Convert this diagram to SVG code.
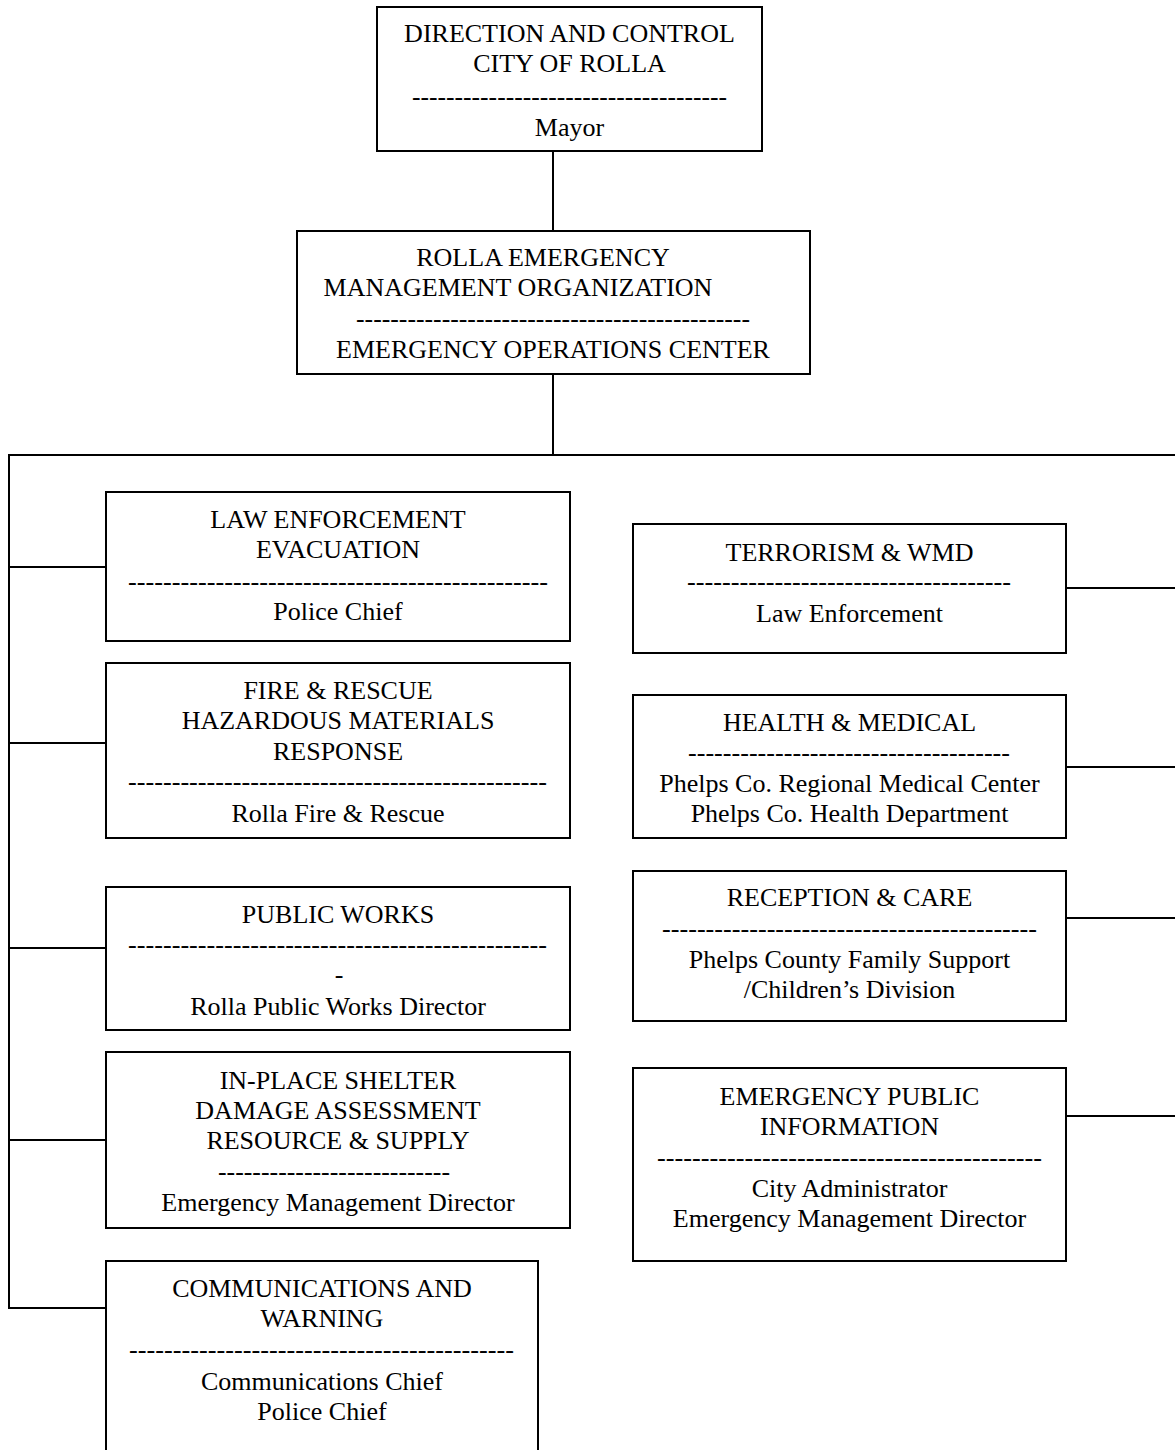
<svg xmlns="http://www.w3.org/2000/svg" width="1175" height="1450" viewBox="0 0 1175 1450">
<style>
.box{fill:#fff;stroke:#000;stroke-width:2}
.c{stroke:#000;stroke-width:2;fill:none}
.t{font-family:"Liberation Serif","Times New Roman",serif;font-size:26px;fill:#000;text-anchor:middle}
.s{text-anchor:start}
</style>
<rect width="1175" height="1450" fill="#fff"/>
<g id="connectors">
<line class="c" x1="553" y1="151" x2="553" y2="231"/>
<line class="c" x1="553" y1="374" x2="553" y2="455"/>
<line class="c" x1="8" y1="455" x2="1175" y2="455"/>
<line class="c" x1="9" y1="455" x2="9" y2="1309"/>
<line class="c" x1="8" y1="567" x2="106" y2="567"/>
<line class="c" x1="8" y1="743" x2="106" y2="743"/>
<line class="c" x1="8" y1="948" x2="106" y2="948"/>
<line class="c" x1="8" y1="1140" x2="106" y2="1140"/>
<line class="c" x1="8" y1="1308" x2="106" y2="1308"/>
<line class="c" x1="1066" y1="588" x2="1175" y2="588"/>
<line class="c" x1="1066" y1="767" x2="1175" y2="767"/>
<line class="c" x1="1066" y1="918" x2="1175" y2="918"/>
<line class="c" x1="1066" y1="1116" x2="1175" y2="1116"/>
</g>
<g id="direction-control">
<rect class="box" x="377" y="7" width="385" height="144"/>
<text class="t" x="569.5" y="42">DIRECTION AND CONTROL</text>
<text class="t" x="569.5" y="72">CITY OF ROLLA</text>
<text class="t s" x="412" y="105" textLength="315" lengthAdjust="spacingAndGlyphs">-------------------------------------</text>
<text class="t" x="569.5" y="136">Mayor</text>
</g>
<g id="emergency-management">
<rect class="box" x="297" y="231" width="513" height="143"/>
<text class="t" x="543" y="266">ROLLA EMERGENCY</text>
<text class="t" x="518" y="296">MANAGEMENT ORGANIZATION</text>
<text class="t s" x="356" y="327" textLength="394" lengthAdjust="spacingAndGlyphs">----------------------------------------------</text>
<text class="t" x="553" y="358">EMERGENCY OPERATIONS CENTER</text>
</g>
<g id="law-enforcement">
<rect class="box" x="106" y="492" width="464" height="149"/>
<text class="t" x="338" y="528">LAW ENFORCEMENT</text>
<text class="t" x="338" y="558">EVACUATION</text>
<text class="t s" x="128" y="590" textLength="420" lengthAdjust="spacingAndGlyphs">------------------------------------------------</text>
<text class="t" x="338" y="620">Police Chief</text>
</g>
<g id="fire-rescue">
<rect class="box" x="106" y="663" width="464" height="175"/>
<text class="t" x="338" y="699">FIRE &amp; RESCUE</text>
<text class="t" x="338" y="729">HAZARDOUS MATERIALS</text>
<text class="t" x="338" y="760">RESPONSE</text>
<text class="t s" x="128" y="790" textLength="419" lengthAdjust="spacingAndGlyphs">------------------------------------------------</text>
<text class="t" x="338" y="822">Rolla Fire &amp; Rescue</text>
</g>
<g id="public-works">
<rect class="box" x="106" y="887" width="464" height="143"/>
<text class="t" x="338" y="923">PUBLIC WORKS</text>
<text class="t s" x="128" y="953" textLength="419" lengthAdjust="spacingAndGlyphs">------------------------------------------------</text>
<text class="t" x="339" y="983">-</text>
<text class="t" x="338" y="1015">Rolla Public Works Director</text>
</g>
<g id="in-place-shelter">
<rect class="box" x="106" y="1052" width="464" height="176"/>
<text class="t" x="338" y="1089">IN-PLACE SHELTER</text>
<text class="t" x="338" y="1119">DAMAGE ASSESSMENT</text>
<text class="t" x="338" y="1149">RESOURCE &amp; SUPPLY</text>
<text class="t s" x="218" y="1180" textLength="232" lengthAdjust="spacingAndGlyphs">---------------------------</text>
<text class="t" x="338" y="1211">Emergency Management Director</text>
</g>
<g id="communications">
<rect class="box" x="106" y="1261" width="432" height="200"/>
<text class="t" x="322" y="1297">COMMUNICATIONS AND</text>
<text class="t" x="322" y="1327">WARNING</text>
<text class="t s" x="129" y="1358" textLength="385" lengthAdjust="spacingAndGlyphs">--------------------------------------------</text>
<text class="t" x="322" y="1390">Communications Chief</text>
<text class="t" x="322" y="1420">Police Chief</text>
</g>
<g id="terrorism">
<rect class="box" x="633" y="524" width="433" height="129"/>
<text class="t" x="849.5" y="561">TERRORISM &amp; WMD</text>
<text class="t s" x="687" y="590" textLength="324" lengthAdjust="spacingAndGlyphs">-------------------------------------</text>
<text class="t" x="849.5" y="622">Law Enforcement</text>
</g>
<g id="health-medical">
<rect class="box" x="633" y="695" width="433" height="143"/>
<text class="t" x="849.5" y="731">HEALTH &amp; MEDICAL</text>
<text class="t s" x="688" y="761" textLength="322" lengthAdjust="spacingAndGlyphs">-------------------------------------</text>
<text class="t" x="849.5" y="792">Phelps Co. Regional Medical Center</text>
<text class="t" x="849.5" y="822">Phelps Co. Health Department</text>
</g>
<g id="reception-care">
<rect class="box" x="633" y="871" width="433" height="150"/>
<text class="t" x="849.5" y="906">RECEPTION &amp; CARE</text>
<text class="t s" x="662" y="937" textLength="375" lengthAdjust="spacingAndGlyphs">-------------------------------------------</text>
<text class="t" x="849.5" y="968">Phelps County Family Support</text>
<text class="t" x="849.5" y="998">/Children’s Division</text>
</g>
<g id="public-information">
<rect class="box" x="633" y="1068" width="433" height="193"/>
<text class="t" x="849.5" y="1105">EMERGENCY PUBLIC</text>
<text class="t" x="849.5" y="1135">INFORMATION</text>
<text class="t s" x="657" y="1166" textLength="385" lengthAdjust="spacingAndGlyphs">--------------------------------------------</text>
<text class="t" x="849.5" y="1197">City Administrator</text>
<text class="t" x="849.5" y="1227">Emergency Management Director</text>
</g>
</svg>
